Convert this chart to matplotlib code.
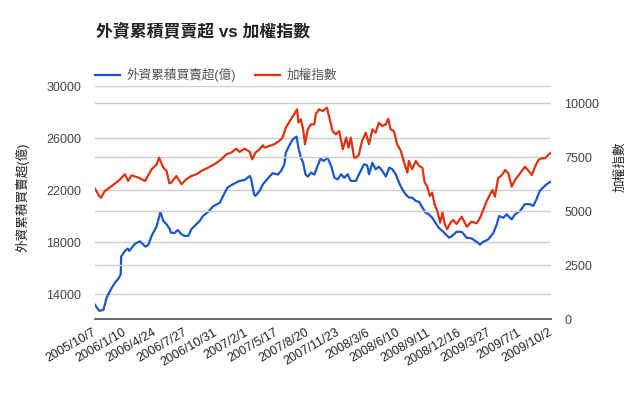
import matplotlib
matplotlib.use("Agg")
import matplotlib.pyplot as plt
from matplotlib.lines import Line2D

plt.rcParams['font.family'] = ['Liberation Sans', 'Noto Sans CJK TC', 'DejaVu Sans']

# x axis: trading-day index, one label every 65 trading days
tick_labels = ["2005/10/7", "2006/1/10", "2006/4/24", "2006/7/27", "2006/10/31",
               "2007/2/1", "2007/5/17", "2007/8/20", "2007/11/23", "2008/3/6",
               "2008/6/10", "2008/9/11", "2008/12/16", "2009/3/27", "2009/7/1",
               "2009/10/2"]
days_per_label = 65

# 外資累積買賣超(億)  (left axis)
foreign_day = [0, 9, 18, 25, 36, 43, 50, 55, 56, 64, 70, 73, 80, 86, 96, 108, 114,
               121, 132, 140, 146, 153, 160, 162, 170, 177, 185, 192, 200, 206, 213,
               224, 231, 242, 252, 267, 274, 283, 291, 302, 309, 320, 331, 334, 340,
               343, 352, 359, 362, 373, 380, 391, 398, 405, 408, 415, 423, 431, 435,
               440, 445, 450, 455, 462, 469, 476, 482, 489, 497, 505, 512, 519, 526,
               533, 540, 547, 558, 561, 568, 575, 582, 586, 593, 600, 607, 614, 622,
               629, 636, 643, 650, 657, 664, 671, 678, 686, 693, 700, 707, 714, 721,
               728, 735, 743, 750, 757, 763, 773, 784, 795, 805, 816, 823, 830, 841,
               852, 859, 864, 873, 880, 891, 898, 909, 919, 930, 937, 944, 951, 958,
               966, 975]
foreign_net = [13190, 12730, 12800, 13750, 14520, 14900, 15200, 15540, 16900, 17330,
               17510, 17330, 17640, 17890, 18070, 17660, 17800, 18480, 19250, 20330,
               19640, 19380, 19000, 18740, 18700, 18940, 18610, 18480, 18500, 19000,
               19250, 19640, 20020, 20330, 20740, 21040, 21560, 22190, 22380, 22580,
               22710, 22780, 23090, 22840, 21690, 21560, 21940, 22450, 22580, 23040,
               23300, 23200, 23480, 23990, 24880, 25390, 25910, 26110, 25260, 24500,
               24110, 23220, 23040, 23340, 23200, 23860, 24420, 24240, 24500, 23860,
               22950, 22830, 23220, 22950, 23220, 22710, 22710, 22960, 23480, 23990,
               23900, 23220, 24110, 23600, 23800, 23500, 23040, 23730, 23600, 23220,
               22580, 22070, 21690, 21430, 21430, 21170, 21100, 20660, 20270, 20140,
               19880, 19500, 19110, 18860, 18610, 18350, 18470, 18800, 18800, 18340,
               18300, 18030, 17820, 18030, 18220, 18730, 19370, 20010, 19880, 20140,
               19750, 20140, 20400, 20920, 20920, 20790, 21300, 21950, 22200, 22460,
               22670]

# 加權指數  (right axis)
index_day = [0, 9, 13, 21, 36, 50, 64, 71, 78, 93, 107, 121, 132, 137, 146, 153, 159,
             163, 174, 185, 195, 206, 217, 227, 242, 259, 270, 281, 291, 302, 309,
             320, 331, 336, 343, 352, 359, 362, 373, 383, 394, 401, 408, 419, 426,
             432, 435, 440, 445, 449, 455, 462, 469, 472, 479, 487, 496, 501, 508,
             515, 522, 530, 537, 542, 547, 554, 557, 564, 571, 579, 586, 593, 600,
             607, 614, 622, 627, 632, 639, 646, 654, 661, 668, 671, 678, 686, 693,
             700, 705, 710, 716, 721, 726, 732, 738, 743, 748, 753, 760, 766, 773,
             784, 795, 805, 816, 823, 830, 837, 844, 850, 855, 862, 870, 877, 884,
             891, 898, 909, 919, 926, 934, 941, 948, 955, 962, 969, 975]
taiex = [6046, 5708, 5630, 5940, 6171, 6403, 6713, 6403, 6667, 6556, 6403, 6944,
         7176, 7481, 7019, 6866, 6296, 6324, 6634, 6250, 6481, 6634, 6713, 6866,
         7019, 7222, 7407, 7639, 7713, 7898, 7750, 7898, 7750, 7407, 7713, 7870,
         8056, 7944, 8023, 8102, 8255, 8407, 8870, 9259, 9491, 9722, 9102, 9259,
         8796, 8102, 8796, 9028, 9028, 9491, 9722, 9640, 9796, 9333, 8718, 8560,
         8718, 7870, 8407, 7944, 8407, 7481, 7481, 7600, 8255, 8639, 8102, 8796,
         8639, 9102, 8949, 9028, 9287, 8796, 8720, 8102, 7792, 7250, 6787, 7329,
         6950, 7329, 7097, 7020, 6324, 6171, 5708, 5860, 5324, 5014, 4472, 4935,
         4398, 4167, 4472, 4597, 4412, 4750, 4287, 4519, 4444, 4676, 5060, 5444,
         5755, 5986, 5676, 6528, 6681, 6912, 6750, 6139, 6449, 6759, 7065, 6900,
         6681, 7065, 7375, 7454, 7454, 7606, 7713]

blue = "#1a56cc"
red = "#dd3311"
grid = "#cccccc"
text = "#444444"

fig = plt.figure(figsize=(6.4, 3.96), dpi=100)
ax = fig.add_axes([95 / 640, 1 - 319.3 / 396, 456 / 640, 233.3 / 396])
ax2 = ax.twinx()

ax.plot(foreign_day, foreign_net, color=blue, lw=1.6, zorder=3)
ax2.plot(index_day, taiex, color=red, lw=1.6, zorder=3)

n_days = days_per_label * (len(tick_labels) - 1)
ax.set_xlim(0, n_days)
ax.set_ylim(12080, 30000)
ax2.set_ylim(0, 10800)
ax.set_yticks(range(14000, 30001, 4000))
ax2.set_yticks(range(0, 10001, 2500))
ax.set_xticks(range(0, n_days + 1, days_per_label))
ax.set_xticklabels(tick_labels, rotation=30, ha="right", va="center",
                   rotation_mode="anchor")

# gridlines of both axes, drawn under the lines
ax.set_axisbelow(True)
ax2.set_axisbelow(True)
ax.grid(axis="y", color=grid, lw=1)
ax2.grid(axis="y", color=grid, lw=1)
ax2.patch.set_visible(False)

for a in (ax, ax2):
    for s in ("top", "left", "right"):
        a.spines[s].set_visible(False)
    a.spines["bottom"].set_color("#666666")
    a.spines["bottom"].set_linewidth(1.3)
    a.tick_params(length=0, labelsize=9, labelcolor=text)
ax.tick_params(axis="y", pad=10)
ax2.tick_params(axis="y", pad=9.5)
ax.tick_params(axis="x", pad=9, labelcolor="#222222")

fig.text(96 / 640, 1 - 31.5 / 396, "外資累積買賣超 vs 加權指數", fontsize=12.2,
         fontweight="bold", color="#222222", ha="left", va="center")
fig.text(22 / 640, 1 - 197 / 396, "外資累積買賣超(億)", rotation=90, fontsize=9.1,
         color="#222222", ha="center", va="center")
fig.text(620 / 640, 1 - 167 / 396, "加權指數", rotation=90, fontsize=9.1,
         color="#222222", ha="center", va="center")

handles = [Line2D([], [], color=blue, lw=1.6), Line2D([], [], color=red, lw=1.6)]
fig.legend(handles, ["外資累積買賣超(億)", "加權指數"], loc="center left",
           bbox_to_anchor=(95 / 640, 1 - 75 / 396), ncol=2, frameon=False,
           fontsize=9.1, labelcolor="#555555", handlelength=2.0,
           handletextpad=0.5, columnspacing=1.5, borderpad=0, borderaxespad=0)

fig.savefig("out.png", dpi=100)
